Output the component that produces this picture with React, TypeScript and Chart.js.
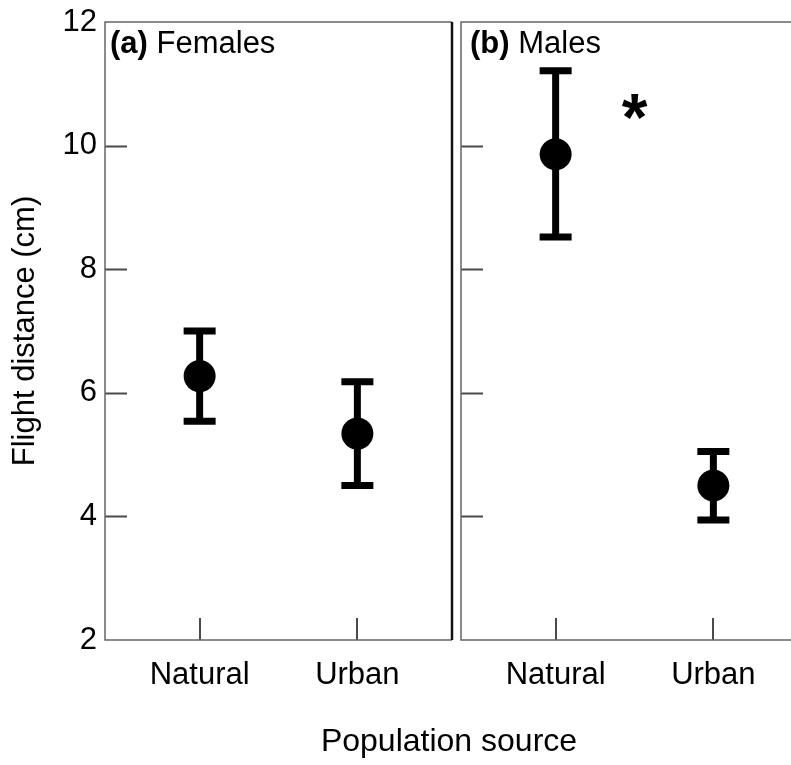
import React, { useEffect, useRef } from "react";
import { Chart, registerables } from "chart.js";

Chart.register(...registerables);

// Population sources on the x axis
const groups = ["Natural", "Urban"];
const groupPositions = [0, 1];
const xRange = [-0.6, 1.6];
const yTicks = [2, 4, 6, 8, 10, 12];

// Flight distance (cm): mean with upper / lower error limits
const femaleMean = [6.27, 5.34];
const femaleUpper = [7.0, 6.18];
const femaleLower = [5.54, 4.5];

const maleMean = [9.86, 4.5];
const maleUpper = [11.21, 5.05];
const maleLower = [8.52, 3.94];

const panelTags = ["(a)", "(b)"];
const panelNames = ["Females", "Males"];
const significanceMark = "*";
const significanceAt = { x: 0.5, y: 10.63 };

const FONT = "'Liberation Sans', Arial, Helvetica, sans-serif";
const FONT_SIZE = 31;

type PanelSpec = {
  mean: number[];
  upper: number[];
  lower: number[];
  tag: string;
  name: string;
  tagOffset: number;
  showYAxis: boolean;
  rightBorderDark: boolean;
  padRight: number;
  star?: boolean;
};

function buildChart(canvas: HTMLCanvasElement, spec: PanelSpec) {
  const framePlugin = {
    id: "panelFrame",
    beforeDatasetsDraw(chart: any) {
      const { ctx, scales } = chart;
      const x = scales.x;
      const y = scales.y;
      ctx.save();
      // error bars
      ctx.strokeStyle = "#000";
      ctx.lineWidth = 7;
      ctx.lineCap = "butt";
      groupPositions.forEach((p, i) => {
        const px = x.getPixelForValue(p);
        const top = y.getPixelForValue(spec.upper[i]);
        const bot = y.getPixelForValue(spec.lower[i]);
        ctx.beginPath();
        ctx.moveTo(px, top);
        ctx.lineTo(px, bot);
        ctx.stroke();
        ctx.beginPath();
        ctx.moveTo(px - 16, top);
        ctx.lineTo(px + 16, top);
        ctx.moveTo(px - 16, bot);
        ctx.lineTo(px + 16, bot);
        ctx.stroke();
      });
      ctx.restore();
    },
    afterDraw(chart: any) {
      const { ctx, chartArea: a, scales } = chart;
      const x = scales.x;
      const y = scales.y;
      ctx.save();
      // inward tick marks
      ctx.strokeStyle = "#4a4a4a";
      ctx.lineWidth = 2;
      yTicks.forEach((v) => {
        if (v <= y.min || v >= y.max) return;
        const py = Math.round(y.getPixelForValue(v)) + 0.5;
        ctx.beginPath();
        ctx.moveTo(a.left, py);
        ctx.lineTo(a.left + 22, py);
        ctx.stroke();
      });
      groupPositions.forEach((p) => {
        const px = Math.round(x.getPixelForValue(p));
        ctx.beginPath();
        ctx.moveTo(px, a.bottom);
        ctx.lineTo(px, a.bottom - 22);
        ctx.stroke();
      });
      // panel frame
      ctx.strokeStyle = "#666";
      ctx.lineWidth = 1.5;
      ctx.beginPath();
      ctx.moveTo(a.right, a.top);
      ctx.lineTo(a.left, a.top);
      ctx.lineTo(a.left, a.bottom);
      ctx.lineTo(a.right, a.bottom);
      ctx.stroke();
      ctx.strokeStyle = spec.rightBorderDark ? "#111" : "#666";
      ctx.lineWidth = spec.rightBorderDark ? 2.5 : 1.5;
      ctx.beginPath();
      ctx.moveTo(a.right, a.top);
      ctx.lineTo(a.right, a.bottom);
      ctx.stroke();
      // panel label
      ctx.fillStyle = "#000";
      ctx.textBaseline = "alphabetic";
      ctx.textAlign = "left";
      const lx = a.left + spec.tagOffset;
      const ly = a.top + 31;
      ctx.font = `bold ${FONT_SIZE}px ${FONT}`;
      ctx.fillText(spec.tag, lx, ly);
      const tw = ctx.measureText(spec.tag).width;
      ctx.font = `${FONT_SIZE}px ${FONT}`;
      ctx.fillText(" " + spec.name, lx + tw, ly);
      // significance marker
      if (spec.star) {
        ctx.font = `bold 66px ${FONT}`;
        ctx.textAlign = "center";
        const m = ctx.measureText(significanceMark);
        const cx = x.getPixelForValue(significanceAt.x);
        const cy = y.getPixelForValue(significanceAt.y);
        const base = cy + (m.actualBoundingBoxAscent - m.actualBoundingBoxDescent) / 2;
        ctx.fillText(significanceMark, cx, base);
      }
      ctx.restore();
    },
  };

  const font = { family: FONT, size: FONT_SIZE };

  return new Chart(canvas, {
    type: "scatter",
    data: {
      datasets: [
        {
          data: groupPositions.map((p, i) => ({ x: p, y: spec.mean[i] })),
          pointRadius: 16,
          pointHoverRadius: 16,
          backgroundColor: "#000",
          borderWidth: 0,
          showLine: false,
        },
      ],
    },
    options: {
      responsive: false,
      animation: false,
      events: [],
      layout: {
        autoPadding: false,
        padding: { left: 0, top: 22, right: spec.padRight, bottom: 0 },
      },
      plugins: { legend: { display: false }, tooltip: { enabled: false } },
      scales: {
        x: {
          type: "linear",
          min: xRange[0],
          max: xRange[1],
          afterBuildTicks: (s: any) => {
            s.ticks = groupPositions.map((v) => ({ value: v }));
          },
          ticks: {
            callback: (v: any) => groups[groupPositions.indexOf(Number(v))] ?? "",
            color: "#000",
            font,
            padding: 17,
            maxRotation: 0,
            autoSkip: false,
          },
          grid: { display: false, drawTicks: false },
          border: { display: false },
          afterFit: (s: any) => {
            s.height = 125;
            s.paddingLeft = 0;
            s.paddingRight = 0;
          },
        },
        y: {
          type: "linear",
          min: yTicks[0],
          max: yTicks[yTicks.length - 1],
          afterBuildTicks: (s: any) => {
            s.ticks = yTicks.map((v) => ({ value: v }));
          },
          ticks: {
            display: spec.showYAxis,
            color: "#000",
            font,
            padding: 8,
          },
          title: {
            display: spec.showYAxis,
            text: "Flight distance (cm)",
            color: "#000",
            font,
            padding: { top: 7, bottom: 0 },
          },
          grid: { display: false, drawTicks: false },
          border: { display: false },
          afterFit: (s: any) => {
            s.width = spec.showYAxis ? 105 : 5;
            s.paddingTop = 0;
            s.paddingBottom = 0;
          },
        },
      },
    },
    plugins: [framePlugin],
  } as any);
}

export default function App() {
  const leftRef = useRef<HTMLCanvasElement | null>(null);
  const rightRef = useRef<HTMLCanvasElement | null>(null);

  useEffect(() => {
    const left = buildChart(leftRef.current!, {
      mean: femaleMean,
      upper: femaleUpper,
      lower: femaleLower,
      tag: panelTags[0],
      name: panelNames[0],
      tagOffset: 5,
      showYAxis: true,
      rightBorderDark: true,
      padRight: 4,
    });
    const right = buildChart(rightRef.current!, {
      mean: maleMean,
      upper: maleUpper,
      lower: maleLower,
      tag: panelTags[1],
      name: panelNames[1],
      tagOffset: 9,
      showYAxis: false,
      rightBorderDark: false,
      padRight: 8,
      star: true,
    });
    return () => {
      left.destroy();
      right.destroy();
    };
  }, []);

  return (
    <div
      style={{
        position: "fixed",
        left: 0,
        top: 0,
        width: 791,
        height: 765,
        overflow: "hidden",
        background: "#fff",
      }}
    >
      <canvas
        ref={leftRef}
        width={456}
        height={765}
        style={{ position: "absolute", left: 0, top: 0, width: 456, height: 765 }}
      />
      <canvas
        ref={rightRef}
        width={360}
        height={765}
        style={{ position: "absolute", left: 456, top: 0, width: 360, height: 765 }}
      />
      <div
        style={{
          position: "absolute",
          left: 449,
          top: 724,
          transform: "translateX(-50%)",
          font: `32px ${FONT}`,
          lineHeight: "32px",
          whiteSpace: "nowrap",
          color: "#000",
        }}
      >
        Population source
      </div>
    </div>
  );
}
